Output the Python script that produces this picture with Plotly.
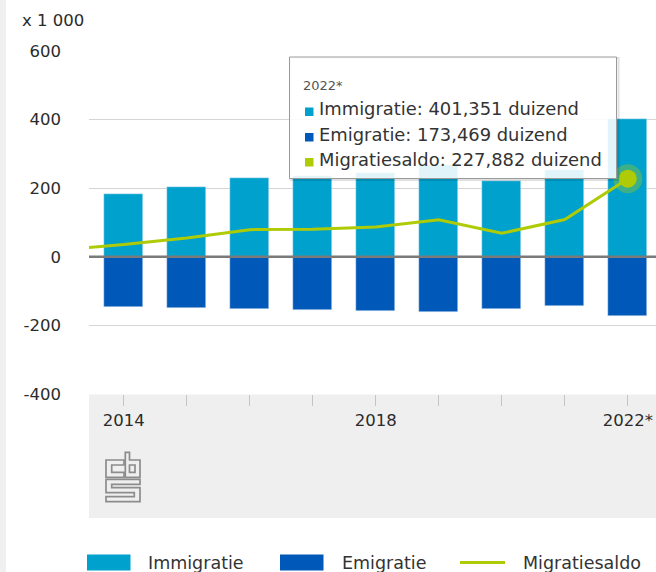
import plotly.graph_objects as go

# ---------------- data (x 1 000) ----------------
years = [2013, 2014, 2015, 2016, 2017, 2018, 2019, 2020, 2021, 2022]
year_labels = ["2013", "2014", "", "", "", "2018", "", "", "", "2022*"]
immigratie = [164.772, 182.949, 204.615, 230.739, 234.957, 243.737, 269.064, 220.853, 252.460, 401.351]
emigratie = [144.437, 147.387, 149.509, 151.547, 154.574, 157.000, 161.167, 152.233, 143.780, 173.469]
migratiesaldo = [20.335, 35.562, 55.106, 79.192, 80.383, 86.737, 107.897, 68.620, 108.680, 227.882]
series_names = ["Immigratie", "Emigratie", "Migratiesaldo"]
y_ticks = [-400, -200, 0, 200, 400, 600]
y_tick_labels = ["-400", "-200", "0", "200", "400", "600"]
unit_label = "x 1 000"
unit_word = "duizend"

# ---------------- style ----------------
C_IMM = "#00A1CD"
C_EMI = "#0058B8"
C_SAL = "#AFCB05"
FONT = "DejaVu Sans"
TXT = "#2b2b2b"

W, H = 656, 572
L, R, T, B = 89, 0, 51, 178
PW, PH = W - L - R, H - T - B


def px(x):
    return (x - L) / PW


def py(y):
    return (H - B - y) / PH


fig = go.Figure()
fig.add_trace(go.Bar(x=years, y=immigratie, name=series_names[0], marker_color=C_IMM,
                     width=0.62, showlegend=False))
fig.add_trace(go.Bar(x=years, y=[-v for v in emigratie], name=series_names[1], marker_color=C_EMI,
                     width=0.62, showlegend=False))
fig.add_trace(go.Scatter(x=years, y=migratiesaldo, name=series_names[2], mode="lines",
                         line=dict(color=C_SAL, width=3), showlegend=False))
# hovered point highlight (last year)
fig.add_trace(go.Scatter(x=years[-1:], y=migratiesaldo[-1:], mode="markers",
                         marker=dict(size=29, color="rgba(175,203,5,0.35)"),
                         showlegend=False, hoverinfo="skip"))
fig.add_trace(go.Scatter(x=years[-1:], y=migratiesaldo[-1:], mode="markers",
                         marker=dict(size=18, color=C_SAL),
                         showlegend=False, hoverinfo="skip"))

shapes = []
annotations = []

# left page strip
shapes.append(dict(type="rect", xref="paper", yref="paper", x0=px(0), x1=px(6), y0=py(H), y1=py(0),
                   fillcolor="#f0f0f0", line_width=0, layer="below"))
# grey band under the x axis
shapes.append(dict(type="rect", xref="paper", yref="paper", x0=0, x1=1, y0=py(518), y1=py(394.5),
                   fillcolor="#efefef", line_width=0, layer="below"))
# zero line on top of bars
shapes.append(dict(type="line", xref="paper", yref="y", x0=0, x1=1, y0=0, y1=0,
                   line=dict(color="#7a7a7a", width=2.6), layer="above"))

# CBS logo (outline paths in pixels)
logo_polys = [
    [(124, 460), (106, 460), (106, 477.3), (124, 477.3), (124, 472.3), (111.7, 472.3), (111.7, 465), (124, 465)],
    [(125.3, 452.3), (129.5, 452.3), (129.5, 460), (140, 460), (140, 477.3), (125.3, 477.3)],
    [(129.5, 465), (135, 465), (135, 472.3), (129.5, 472.3)],
    [(106, 479.3), (140, 479.3), (140, 484.3), (111.7, 484.3), (111.7, 487.7), (140, 487.7), (140, 501.7),
     (106, 501.7), (106, 496.7), (134.3, 496.7), (134.3, 492.7), (106, 492.7)],
]
for poly in logo_polys:
    path = "M" + " L".join(f"{px(a):.5f},{py(b):.5f}" for a, b in poly) + " Z"
    shapes.append(dict(type="path", xref="paper", yref="paper", path=path,
                       line=dict(color="#8c8c8c", width=1.7), fillcolor="rgba(0,0,0,0)"))

# tooltip box
shapes.append(dict(type="rect", xref="paper", yref="paper", x0=px(290.5), x1=px(618.5), y0=py(180), y1=py(58),
                   fillcolor="rgba(0,0,0,0)", line=dict(color="rgba(0,0,0,0.12)", width=2), layer="above"))
shapes.append(dict(type="rect", xref="paper", yref="paper", x0=px(289.5), x1=px(616.5), y0=py(178.5), y1=py(57),
                   fillcolor="rgba(255,255,255,0.88)", line=dict(color="#9a9a9a", width=1), layer="above"))

def fmt(v):
    return f"{v:.3f}".replace(".", ",")

annotations.append(dict(xref="paper", yref="paper", x=px(301), y=py(85), xanchor="left", yanchor="middle",
                        text=year_labels[-1], showarrow=False, font=dict(family=FONT, size=13, color="#555")))
tip_vals = [immigratie[-1], emigratie[-1], migratiesaldo[-1]]
tip_cols = [C_IMM, C_EMI, C_SAL]
tip_y = [108.5, 134, 159]
for name, val, col, yy in zip(series_names, tip_vals, tip_cols, tip_y):
    shapes.append(dict(type="rect", xref="paper", yref="paper", x0=px(305), x1=px(313.5),
                       y0=py(yy + 7.5), y1=py(yy - 1), fillcolor=col, line_width=0, layer="above"))
    annotations.append(dict(xref="paper", yref="paper", x=px(316.5), y=py(yy), xanchor="left", yanchor="middle",
                            text=f"{name}: {fmt(val)} {unit_word}", showarrow=False,
                            font=dict(family=FONT, size=17.9, color="#333")))

# unit label
annotations.append(dict(xref="paper", yref="paper", x=px(20), y=py(20), xanchor="left", yanchor="middle",
                        text=unit_label, showarrow=False, font=dict(family=FONT, size=16.5, color=TXT)))

# legend (drawn manually to match wide swatches)
shapes.append(dict(type="rect", xref="paper", yref="paper", x0=px(87), x1=px(130.5), y0=py(570.5), y1=py(554.5),
                   fillcolor=C_IMM, line_width=0))
shapes.append(dict(type="rect", xref="paper", yref="paper", x0=px(280), x1=px(323.5), y0=py(570.5), y1=py(554.5),
                   fillcolor=C_EMI, line_width=0))
shapes.append(dict(type="line", xref="paper", yref="paper", x0=px(460), x1=px(505), y0=py(562.5), y1=py(562.5),
                   line=dict(color=C_SAL, width=3)))
for name, xx in zip(series_names, [146, 339.5, 520.5]):
    annotations.append(dict(xref="paper", yref="paper", x=px(xx), y=py(562.5), xanchor="left", yanchor="middle",
                            text=name, showarrow=False, font=dict(family=FONT, size=17.5, color="#333")))

fig.update_layout(
    width=W, height=H,
    margin=dict(l=L, r=R, t=T, b=B),
    paper_bgcolor="white", plot_bgcolor="white",
    barmode="relative", bargap=0,
    font=dict(family=FONT, size=16.5, color=TXT),
    showlegend=False,
    shapes=shapes, annotations=annotations,
    xaxis=dict(range=[2013.448, 2022.448], tickvals=years, ticktext=year_labels,
               ticks="outside", ticklen=11, tickcolor="#c4c4c4", tickwidth=1,
               showgrid=False, zeroline=False, showline=False,
               tickfont=dict(family=FONT, size=16.5, color=TXT), fixedrange=True),
    yaxis=dict(range=[-400, 600], tickvals=y_ticks, ticktext=y_tick_labels,
               showgrid=True, gridcolor="#d4d4d4", gridwidth=1, zeroline=False, showline=False,
               ticks="", ticklabelstandoff=27,
               tickfont=dict(family=FONT, size=16.5, color=TXT), fixedrange=True),
)

fig.write_html("out.html")
